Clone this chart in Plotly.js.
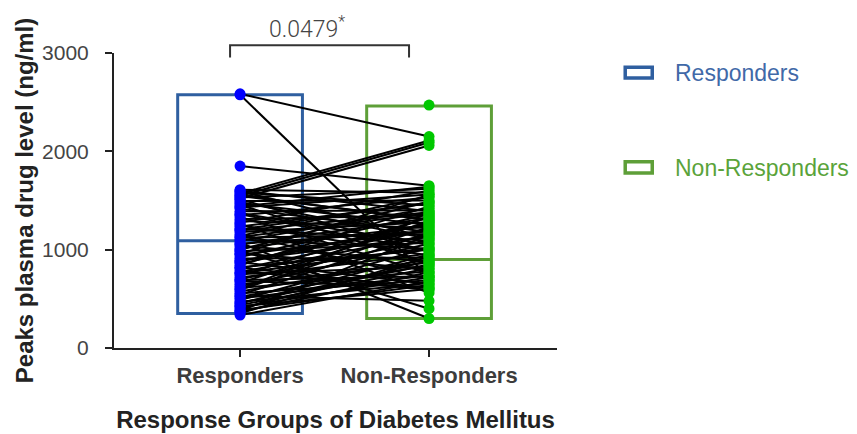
<!DOCTYPE html>
<html>
<head>
<meta charset="utf-8">
<script src="https://cdn.plot.ly/plotly-3.0.1.min.js"></script>
<style>html,body{margin:0;padding:0;background:#fff;}#chart{width:857px;height:434px;}</style>
</head>
<body>
<div id="chart"></div>
<script>
// ---- data ----
const categories = ["Responders", "Non-Responders"];
const boxLow = [350, 300];
const boxHigh = [2575, 2460];
const medians = [1090, 900];
// paired observations (same index = same subject)
const responders = [2585, 2575, 1850, 1570, 1545, 1520,
  1610, 1595, 1580, 1555, 1530, 1512, 1495, 1470, 1455, 1430, 1415, 1390, 1372, 1350, 1333, 1310,
  1292, 1275, 1250, 1236, 1214, 1195, 1180, 1158, 1140, 1122, 1105, 1090, 1070, 1052, 1038, 1015,
  1000, 985, 962, 948, 925, 910, 893, 872, 858, 840, 822, 805, 786, 770, 752, 735, 716, 698, 680,
  662, 645, 628, 610, 592, 575, 556, 540, 522, 505, 488, 470, 452, 436, 418, 400, 385, 368, 352, 335,
  1600, 1485, 1440, 1360, 1265, 1205, 1130, 1060, 990, 955, 880, 815, 760, 690, 600, 530, 460, 425, 375, 1545];
const nonResponders = [2150, 720, 1650, 2110, 2090, 2060,
  1580, 1120, 1450, 1300, 1620, 980, 1500, 1250, 860, 1560, 1180, 1400, 1050, 1530, 760, 1350,
  1220, 1600, 940, 1470, 1090, 1380, 1280, 700, 1540, 1160, 1010, 1420, 300, 1320, 880, 1240,
  1490, 1070, 800, 1190, 1360, 920, 1130, 650, 1270, 1440, 1000, 1210, 590, 1150, 830, 1330, 960,
  1100, 620, 1290, 870, 1060, 780, 1230, 900, 690, 1170, 840, 740, 1020, 660, 950, 810, 720, 890,
  640, 770, 930, 680,
  1390, 1110, 1640, 990, 560, 1480, 1370, 1190, 400, 1560, 1260, 610, 1020, 730, 1340, 480, 850, 600, 1150, 1310];
const unpairedNonResponders = [2470];

const boxColors = ["#2F5FA0", "#5E9F38"];
const dotColors = ["#0000FF", "#00C800"];
const legendTextColors = ["#4169A8", "#5AA33A"];
const boxWidth = 0.66;

// ---- traces ----
const traces = [];
// floating boxes (min..max)
traces.push({
  type: "bar", x: [0, 1], base: boxLow,
  y: boxHigh.map((h, i) => h - boxLow[i]),
  width: boxWidth,
  marker: {color: "rgba(0,0,0,0)", line: {color: boxColors, width: 3}},
  hoverinfo: "skip", showlegend: false
});
// median lines
medians.forEach((m, i) => {
  traces.push({
    type: "scatter", mode: "lines",
    x: [i - boxWidth / 2, i + boxWidth / 2], y: [m, m],
    line: {color: boxColors[i], width: 3},
    hoverinfo: "skip", showlegend: false
  });
});
// paired lines
const lx = [], ly = [];
responders.forEach((r, i) => {
  lx.push(0, 1, null); ly.push(r, nonResponders[i], null);
});
traces.push({
  type: "scatter", mode: "lines", x: lx, y: ly,
  line: {color: "#000", width: 2}, hoverinfo: "skip", showlegend: false
});
// points
traces.push({
  type: "scatter", mode: "markers", x: responders.map(() => 0), y: responders,
  marker: {color: dotColors[0], size: 11}, showlegend: false, cliponaxis: false
});
const nrAll = nonResponders.concat(unpairedNonResponders);
traces.push({
  type: "scatter", mode: "markers", x: nrAll.map(() => 1), y: nrAll,
  marker: {color: dotColors[1], size: 11}, showlegend: false, cliponaxis: false
});

// ---- layout ----
const font = "Liberation Sans, Arial, sans-serif";
const legendRects = [
  {x0: 1.154, x1: 1.215, y0: 0.915, y1: 0.952},
  {x0: 1.154, x1: 1.215, y0: 0.593, y1: 0.631}
];
const shapes = legendRects.map((r, i) => Object.assign({
  type: "rect", xref: "paper", yref: "paper",
  line: {color: boxColors[i], width: 3.5}, fillcolor: "rgba(0,0,0,0)"
}, r));
shapes.push({
  type: "path", xref: "paper", yref: "paper",
  path: "M 0.262 0.985 L 0.262 1.026 L 0.666 1.026 L 0.666 0.985",
  line: {color: "#333", width: 2}
});

const annotations = [
  {xref: "paper", yref: "paper", x: 1.262, y: 0.933, xanchor: "left", yanchor: "middle",
   text: categories[0], showarrow: false,
   font: {family: font, size: 23, color: legendTextColors[0]}},
  {xref: "paper", yref: "paper", x: 1.262, y: 0.610, xanchor: "left", yanchor: "middle",
   text: categories[1], showarrow: false,
   font: {family: font, size: 23, color: legendTextColors[1]}},
  {xref: "paper", yref: "paper", x: 0.436, y: 1.088, xanchor: "center", yanchor: "middle",
   text: "0.0479<sup>*</sup>", showarrow: false,
   font: {family: "Roboto, sans-serif", size: 23, color: "#444", weight: 300}}
];

const layout = {
  width: 857, height: 434,
  margin: {l: 114, r: 300, t: 53, b: 86},
  paper_bgcolor: "#fff", plot_bgcolor: "#fff",
  showlegend: false,
  barmode: "overlay",
  xaxis: {
    range: [-0.667, 1.677], tickvals: [0, 1], ticktext: categories,
    showline: true, linecolor: "#222", linewidth: 2,
    ticks: "outside", ticklen: 7, tickwidth: 2, tickcolor: "#222",
    showgrid: false, zeroline: false,
    tickfont: {family: font, size: 22, color: "#3c3c3c", weight: "bold"},
    title: {text: "Response Groups of Diabetes Mellitus", standoff: 24,
      font: {family: font, size: 24, color: "#222", weight: "bold"}}
  },
  yaxis: {
    range: [0, 3000], tickvals: [0, 1000, 2000, 3000],
    showline: true, linecolor: "#222", linewidth: 2,
    ticks: "outside", ticklen: 7, tickwidth: 2, tickcolor: "#222",
    ticklabelstandoff: 12,
    showgrid: false, zeroline: false,
    tickfont: {family: font, size: 21, color: "#444"},
    title: {text: "Peaks plasma drug level (ng/ml)", standoff: 2,
      font: {family: font, size: 24, color: "#222", weight: "bold"}}
  },
  shapes: shapes,
  annotations: annotations
};

Plotly.newPlot("chart", traces, layout, {displayModeBar: false, staticPlot: true});
</script>
</body>
</html>
